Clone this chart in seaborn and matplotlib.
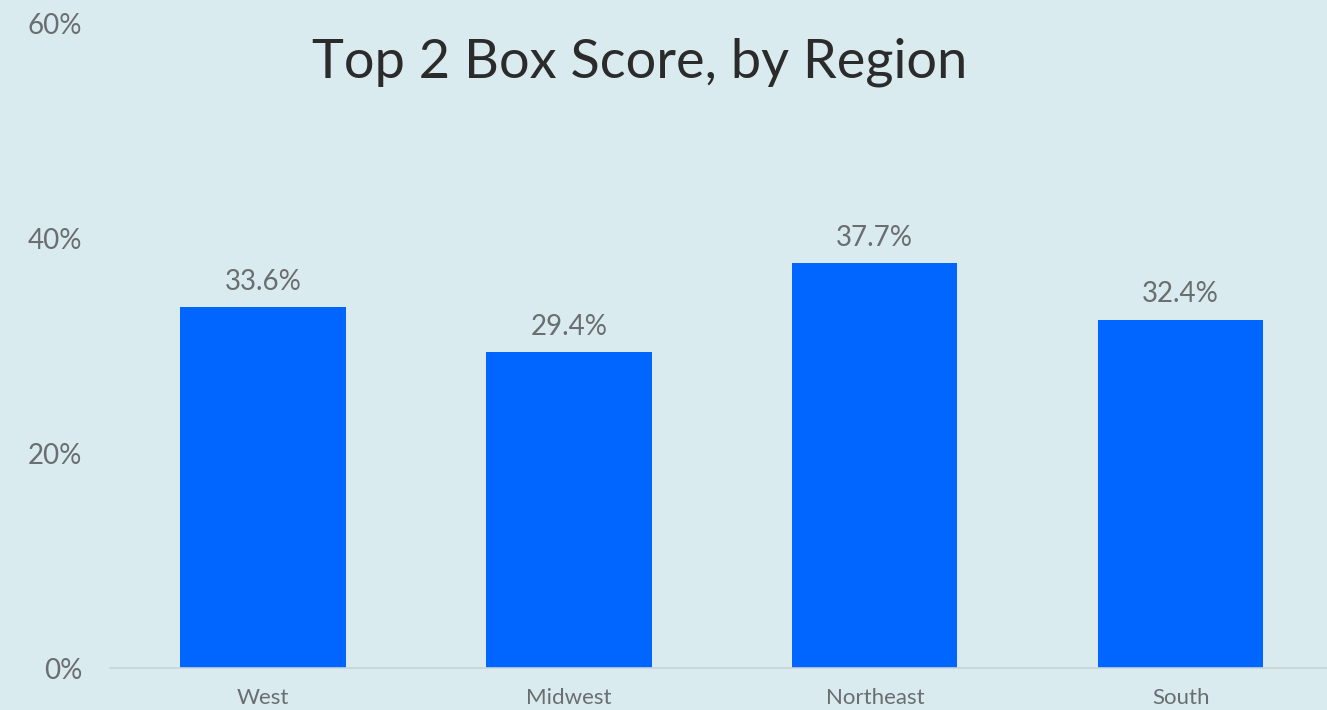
import pandas as pd
import seaborn as sns
import matplotlib.pyplot as plt
from matplotlib.ticker import FuncFormatter

regions = ["West", "Midwest", "Northeast", "South"]
scores = [33.6, 29.4, 37.7, 32.4]
y_ticks = [0, 20, 40, 60]

df = pd.DataFrame({"Region": regions, "Score": scores})

bg = "#D9EBEE"
bar_color = "#0066FF"
text_gray = "#6a6e70"

sns.set_theme(style="white")
plt.rcParams["font.family"] = ["Lato", "DejaVu Sans"]

fig = plt.figure(figsize=(13.27, 7.10), dpi=100, facecolor=bg)
ax = fig.add_axes([0.083, 0.059, 0.922, 0.908])
ax.set_facecolor(bg)

sns.barplot(data=df, x="Region", y="Score", color=bar_color, width=0.54,
            saturation=1, linewidth=0, ax=ax)

ax.set_xlim(-0.5, 3.5)
ax.set_ylim(0, 60)
ax.set_yticks(y_ticks)
ax.yaxis.set_major_formatter(FuncFormatter(lambda v, _: f"{v:.0f}%"))
ax.tick_params(axis="y", length=0, pad=20, labelsize=20, labelcolor=text_gray)
ax.tick_params(axis="x", length=0, pad=14, labelsize=16, labelcolor=text_gray)

ax.set_xlabel("")
ax.set_ylabel("")
for side in ["top", "right", "left"]:
    ax.spines[side].set_visible(False)
ax.spines["bottom"].set_color("#c9d3d5")
ax.spines["bottom"].set_linewidth(1.2)

for bar, val in zip(ax.patches, scores):
    ax.annotate(f"{val:.1f}%", (bar.get_x() + bar.get_width() / 2, bar.get_height()),
                xytext=(0, 9), textcoords="offset points", ha="center", va="bottom",
                fontsize=20, color=text_gray)

fig.text(0.482, 0.912, "Top 2 Box Score, by Region", ha="center", va="center",
         fontsize=39, color="#2b2b2b")

fig.savefig("out.png", dpi=100, facecolor=bg)
